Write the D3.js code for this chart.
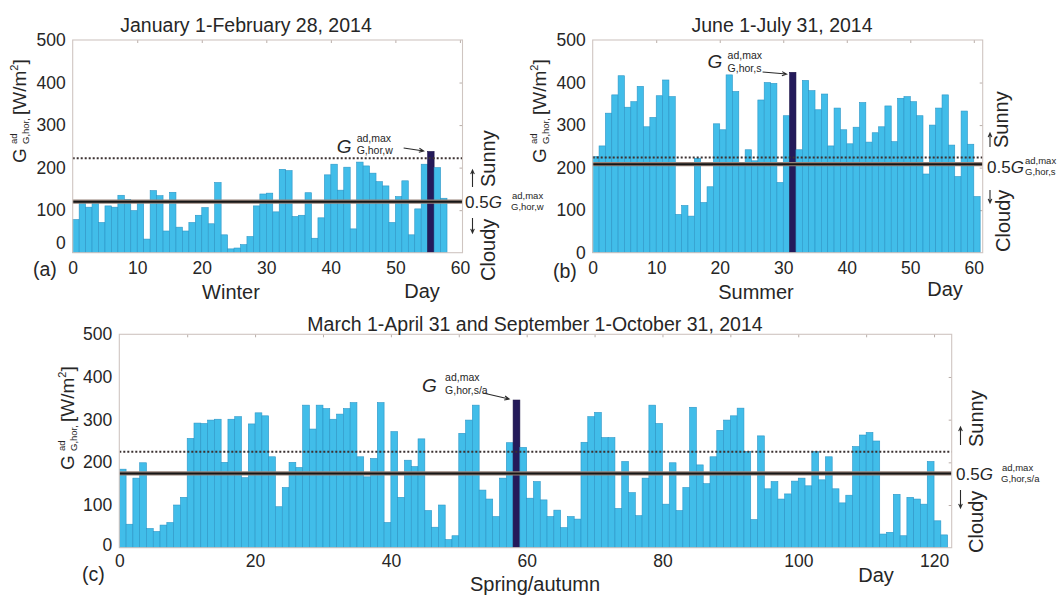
<!DOCTYPE html>
<html>
<head>
<meta charset="utf-8">
<script src="https://cdn.jsdelivr.net/npm/d3@7"></script>
<style>
  body { margin: 0; background: #ffffff; }
  text { font-family: "Liberation Sans", Arial, Helvetica, sans-serif; fill: #262626; }
</style>
</head>
<body>
<svg id="chart" width="1064" height="595"></svg>
<script>
// ---------------- DATA ----------------
const yTicks = [0, 100, 200, 300, 400, 500];
const xTicksSeason = [0, 10, 20, 30, 40, 50, 60];
const xTicksYear = [0, 20, 40, 60, 80, 100, 120];
const xMinorSeason = [10, 20, 30, 40, 50, 60];
const xMinorYear = [10, 20, 30, 40, 50, 60, 70, 80, 90, 100, 110, 120];

// Winter: January 1 - February 28, 2014 (daily G, W/m2)
const winterValues = [
  78, 120, 107, 118, 71, 110, 107, 135, 125, 99,
  122, 32, 146, 134, 51, 142, 60, 51, 71, 88,
  106, 68, 165, 42, 9, 11, 19, 38, 110, 138,
  140, 96, 196, 193, 85, 88, 141, 34, 82, 183,
  208, 147, 201, 56, 213, 204, 187, 167, 157, 71,
  132, 169, 42, 103, 208, 238, 200, 128
];

// Summer: June 1 - July 31, 2014
const summerValues = [
  226, 251, 328, 371, 416, 342, 355, 391, 296, 318,
  369, 406, 367, 90, 111, 86, 222, 118, 155, 303,
  289, 418, 379, 212, 242, 216, 359, 400, 398, 165,
  322, 424, 242, 405, 381, 336, 373, 251, 340, 289,
  256, 295, 353, 260, 282, 296, 345, 261, 363, 367,
  355, 322, 185, 300, 340, 371, 253, 179, 333, 255,
  132
];

// Spring/autumn: March 1 - April 31 and September 1 - October 31, 2014
const springAutumnValues = [
  184, 55, 163, 199, 45, 38, 53, 59, 100, 118,
  256, 292, 291, 299, 301, 200, 301, 307, 164, 290,
  316, 309, 213, 96, 141, 200, 188, 334, 278,
  334, 326, 301, 313, 326, 340, 213, 166, 209, 340,
  59, 272, 118, 205, 190, 255, 87, 48, 100, 19,
  28, 268, 299, 334, 135, 114, 73, 163, 246,
  346,
  235, 116, 155, 112, 73, 88, 47, 73, 67, 247,
  307, 317, 258, 258, 92, 202, 129, 75, 163, 334,
  291, 102, 199, 87, 141, 329, 194, 150, 213, 275,
  299, 309, 327, 225, 66, 262, 138, 155, 114, 126,
  156, 163, 145, 225, 159, 213, 138, 105, 123, 237,
  264, 270, 250, 32, 36, 125, 28, 118, 114, 102,
  202, 63, 30
];

const sunnyLimits = [222, 224, 225];      // dotted lines
const halfMaxLevels = [120, 208, 174];    // solid lines (0.5 G max)

const titles = ["January 1-February 28, 2014", "June 1-July 31, 2014",
                "March 1-April 31 and September 1-October 31, 2014"];
const seasonNames = ["Winter", "Summer", "Spring/autumn"];
const panelTags = ["(a)", "(b)", "(c)"];
const maxSubscripts = ["G,hor,w", "G,hor,s", "G,hor,s/a"];

// ---------------- LAYOUT ----------------
const panels = [
  {
    values: winterValues, xTicks: xTicksSeason, xMinor: xMinorSeason,
    left: 72.7, right: 462.5, top: 40, bottom: 252.7, xMax: 60.4,
    zeroShift: -10, xLabelPad: 9,
    title: { x: 246, y: 32 },
    tag: { x: 33, y: 276 },
    season: { x: 231, y: 299 }, day: { x: 422, y: 298 },
    ylab: { x: 25.5, y: 163 },
    ann: { g: [-91, 1.5], sup: [-71, -9.5], sub: [-71, 2.5], a1: [-24, -3.5], a2: [-4, -0.5] },
    side: { half: [465, 208], sup: [512, 199], sub: [511, 209.5],
            up: [472.5, 187, 170], down: [472.5, 218, 233],
            sunny: [495, 187], cloudy: [495, 281] }
  },
  {
    values: summerValues, xTicks: xTicksSeason, xMinor: xMinorSeason,
    left: 592.7, right: 982.7, top: 40, bottom: 252.7, xMax: 61.4,
    zeroShift: 0, xLabelPad: 9,
    title: { x: 782, y: 32 },
    tag: { x: 553, y: 278 },
    season: { x: 756, y: 299 }, day: { x: 945, y: 296 },
    ylab: { x: 545.5, y: 163 },
    ann: { g: [-82, -4.3], sup: [-62, -13.3], sub: [-62, -0.3], a1: [-27, -0.3], a2: [-3, 1.7] },
    side: { half: [987, 173], sup: [1025, 164], sub: [1025, 175],
            up: [990, 147, 133], down: [990, 190, 203],
            sunny: [1008, 148], cloudy: [1010, 252] }
  },
  {
    values: springAutumnValues, xTicks: xTicksYear, xMinor: xMinorYear,
    left: 119.3, right: 951.7, top: 334.3, bottom: 547.7, xMax: 122.6,
    zeroShift: -3, xLabelPad: 7,
    title: { x: 535, y: 331 },
    tag: { x: 82, y: 581 },
    season: { x: 535, y: 591 }, day: { x: 876, y: 582 },
    ylab: { x: 74, y: 470 },
    ann: { g: [-91, -8], sup: [-68, -19], sub: [-68, -6], a1: [-30, -7], a2: [-4, -1] },
    side: { half: [956, 480], sup: [1002, 471], sub: [1001, 482],
            up: [960.5, 445, 427], down: [960.5, 490, 508],
            sunny: [983, 447], cloudy: [983, 553] }
  }
];

const BAR = "#41bde9", BAR_EDGE = "#2c96c7", MAXBAR = "#241a5a", MAXEDGE = "#1a1245";
const BOX = "#cfc5c1";
const svg = d3.select("#chart");

function arrow(g, x1, y1, x2, y2, head) {
  const a = Math.atan2(y2 - y1, x2 - x1), s = 0.42, h = head || 5;
  const p = d3.path();
  p.moveTo(x1, y1); p.lineTo(x2, y2);
  p.moveTo(x2 - h * Math.cos(a - s), y2 - h * Math.sin(a - s));
  p.lineTo(x2, y2);
  p.lineTo(x2 - h * Math.cos(a + s), y2 - h * Math.sin(a + s));
  g.append("path").attr("d", p.toString()).attr("fill", "none")
    .attr("stroke", "#2a2a2a").attr("stroke-width", 1.1);
}

function rotText(g, x, y, str, size) {
  g.append("text").attr("transform", `translate(${x},${y}) rotate(-90)`)
    .style("font-size", size + "px").text(str);
}

panels.forEach((p, k) => {
  const g = svg.append("g");
  const x = d3.scaleLinear().domain([0, p.xMax]).range([p.left, p.right]);
  const y = d3.scaleLinear().domain([0, 500]).range([p.bottom, p.top]);

  // inward minor ticks top and right
  const topAxis = g.append("g").attr("transform", `translate(0,${p.top})`)
    .call(d3.axisTop(x).tickValues(p.xMinor).tickSize(-3).tickFormat(""));
  topAxis.select(".domain").remove();
  topAxis.selectAll("line").attr("stroke", "#b9aea9");
  const rightAxis = g.append("g").attr("transform", `translate(${p.right},0)`)
    .call(d3.axisRight(y).tickValues(yTicks.slice(1, 5)).tickSize(-3).tickFormat(""));
  rightAxis.select(".domain").remove();
  rightAxis.selectAll("line").attr("stroke", "#b9aea9");

  // bars
  const iMax = d3.maxIndex(p.values);
  g.append("g").selectAll("rect").data(p.values).join("rect")
    .attr("x", (d, i) => x(i))
    .attr("width", (d, i) => x(i + 1) - x(i))
    .attr("y", d => y(d))
    .attr("height", d => y(0) - y(d))
    .attr("fill", (d, i) => i === iMax ? MAXBAR : BAR)
    .attr("stroke", (d, i) => i === iMax ? MAXEDGE : BAR_EDGE)
    .attr("stroke-width", 0.6);

  // dotted sunny limit
  g.append("line").attr("x1", p.left).attr("x2", p.right)
    .attr("y1", y(sunnyLimits[k])).attr("y2", y(sunnyLimits[k]))
    .attr("stroke", "#3b3131").attr("stroke-width", 2).attr("stroke-dasharray", "2,2");
  // solid half-max line
  g.append("line").attr("x1", p.left).attr("x2", p.right)
    .attr("y1", y(halfMaxLevels[k])).attr("y2", y(halfMaxLevels[k]))
    .attr("stroke", "#968279").attr("stroke-width", 4.2);
  g.append("line").attr("x1", p.left).attr("x2", p.right)
    .attr("y1", y(halfMaxLevels[k])).attr("y2", y(halfMaxLevels[k]))
    .attr("stroke", "#161616").attr("stroke-width", 2);

  // box
  g.append("rect").attr("x", p.left).attr("y", p.top)
    .attr("width", p.right - p.left).attr("height", p.bottom - p.top)
    .attr("fill", "none").attr("stroke", BOX).attr("stroke-width", 1.1);

  // y axis labels
  const yAx = g.append("g").attr("transform", `translate(${p.left},0)`)
    .call(d3.axisLeft(y).tickValues(yTicks).tickSize(0).tickPadding(7));
  yAx.select(".domain").remove();
  yAx.selectAll("text").style("font-size", "17.5px").style("font-family", null)
    .attr("fill", "#262626")
    .attr("transform", d => d === 0 ? `translate(0,${p.zeroShift})` : null);

  // x axis labels
  const xAx = g.append("g").attr("transform", `translate(0,${p.bottom})`)
    .call(d3.axisBottom(x).tickValues(p.xTicks).tickSize(0).tickPadding(p.xLabelPad));
  xAx.select(".domain").remove();
  xAx.selectAll("text").style("font-size", "17.5px").style("font-family", null)
    .attr("fill", "#262626");

  // title, tags, axis names
  g.append("text").attr("x", p.title.x).attr("y", p.title.y).attr("text-anchor", "middle")
    .style("font-size", "19.5px").text(titles[k]);
  g.append("text").attr("x", p.tag.x).attr("y", p.tag.y).style("font-size", "19.5px").text(panelTags[k]);
  g.append("text").attr("x", p.season.x).attr("y", p.season.y).attr("text-anchor", "middle")
    .style("font-size", "20px").text(seasonNames[k]);
  g.append("text").attr("x", p.day.x).attr("y", p.day.y).attr("text-anchor", "middle")
    .style("font-size", "20px").text("Day");

  // y label: G^ad_G,hor, [W/m2]
  const yl = g.append("g").attr("transform", `translate(${p.ylab.x},${p.ylab.y}) rotate(-90)`);
  yl.append("text").attr("x", 0).attr("y", 0).style("font-size", "19px").text("G");
  yl.append("text").attr("x", 19).attr("y", -9).style("font-size", "9.5px").text("ad");
  yl.append("text").attr("x", 19).attr("y", 3).style("font-size", "9.5px").text("G,hor,");
  const unit = yl.append("text").attr("x", 48).attr("y", 0).style("font-size", "19px");
  unit.append("tspan").text("[W/m");
  unit.append("tspan").attr("dy", -8).style("font-size", "11px").text("2");
  unit.append("tspan").attr("dy", 8).text("]");

  // annotation on max bar
  const bx = x(iMax), by = y(p.values[iMax]);
  g.append("text").attr("x", bx + p.ann.g[0]).attr("y", by + p.ann.g[1])
    .style("font-size", "19px").style("font-style", "italic").text("G");
  g.append("text").attr("x", bx + p.ann.sup[0]).attr("y", by + p.ann.sup[1])
    .style("font-size", "10.5px").text("ad,max");
  g.append("text").attr("x", bx + p.ann.sub[0]).attr("y", by + p.ann.sub[1])
    .style("font-size", "10.5px").text(maxSubscripts[k]);
  arrow(g, bx + p.ann.a1[0], by + p.ann.a1[1], bx + p.ann.a2[0], by + p.ann.a2[1], 5);

  // right side labels
  const s = p.side;
  const half = g.append("text").attr("x", s.half[0]).attr("y", s.half[1]).style("font-size", "17px");
  half.append("tspan").text("0.5");
  half.append("tspan").style("font-style", "italic").text("G");
  g.append("text").attr("x", s.sup[0]).attr("y", s.sup[1]).style("font-size", "9.5px").text("ad,max");
  g.append("text").attr("x", s.sub[0]).attr("y", s.sub[1]).style("font-size", "9.5px").text(maxSubscripts[k]);
  arrow(g, s.up[0], s.up[1], s.up[0], s.up[2], 4.5);
  arrow(g, s.down[0], s.down[1], s.down[0], s.down[2], 4.5);
  rotText(g, s.sunny[0], s.sunny[1], "Sunny", 20);
  rotText(g, s.cloudy[0], s.cloudy[1], "Cloudy", 20);
});
</script>
</body>
</html>
